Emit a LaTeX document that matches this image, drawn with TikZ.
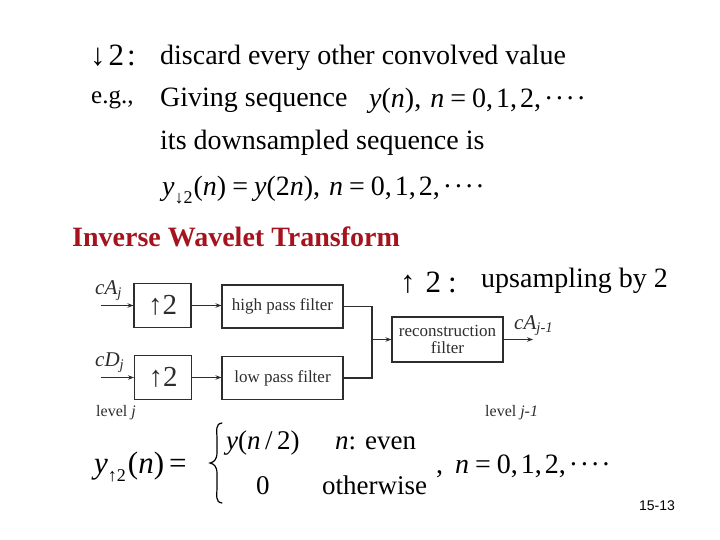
\documentclass[tikz,border=0pt]{standalone}
\usepackage{amsmath}
\usepackage{fontspec}
\setmainfont{Liberation Serif}
\newfontfamily\pagefont{Liberation Sans}
\usetikzlibrary{arrows.meta}
\definecolor{titlered}{RGB}{165,20,30}
\definecolor{diag}{RGB}{45,45,45}
\newcommand{\mi}[1]{\textit{#1}}
\newcommand{\ctd}{\hspace{3pt}·\hspace{1.5pt}·\hspace{1.5pt}·\hspace{1.5pt}·}
\newcommand{\sbx}[1]{\raisebox{-0.28em}{\fontsize{18}{18}\selectfont #1}}
\newcommand{\eqs}{\hspace{6pt}=\hspace{6pt}}
\newcommand{\seq}{0,\hspace{3pt}1,\hspace{3pt}2,\ctd}
\begin{document}
\begin{tikzpicture}[x=1pt,y=-1pt,
  txt/.style={inner sep=0pt, anchor=base west, font=\fontsize{28}{33}\selectfont},
  small/.style={inner sep=0pt, anchor=base west, text=diag, font=\fontsize{16}{19}\selectfont},
  lab/.style={inner sep=0pt, anchor=base west, text=diag, font=\fontsize{21}{24}\selectfont},
  box/.style={draw=diag, line width=1.1pt, inner sep=0pt, text=diag, font=\fontsize{17}{19}\selectfont, align=center},
  upbox/.style={box, minimum width=57pt, minimum height=44pt, font=\fontsize{29}{30}\selectfont},
  filt/.style={box, minimum width=121pt, minimum height=43pt},
  wire/.style={draw=diag, line width=1.1pt},
  conn/.style={wire, -{Stealth[length=6pt,width=4.5pt]}}]
\useasboundingbox (0,0) rectangle (720,540);

% top text
\node[txt, font=\fontsize{31}{34}\selectfont] (dn) at (90,66) {↓\hspace{3pt}2\hspace{3pt}:};
\node[txt] (l1) at (160,65) {discard every other convolved value};
\node[txt, font=\fontsize{25}{30}\selectfont] (eg) at (91,104) {e.g.,};
\node[txt] (l2) at (160,107) {Giving sequence};
\node[txt] (l2m) at (369,108) {\mi{y}(\mi{n}),\hspace{9pt}\mi{n}\eqs\seq};
\node[txt] (l3) at (160,150) {its downsampled sequence is};
\node[txt] (l4) at (162,196) {\mi{y}\sbx{↓2}\hspace{1pt}(\mi{n})\eqs\mi{y}(2\mi{n}),\hspace{9pt}\mi{n}\eqs\seq};

% title
\node[txt, font=\fontsize{28}{33}\selectfont\bfseries, text=titlered] (title) at (72,246) {Inverse Wavelet Transform};

\node[txt, font=\fontsize{31}{34}\selectfont] (up) at (400,292) {↑\hspace{10pt}2\hspace{7pt}:};
\node[txt] (ups) at (481,287) {upsampling by 2};

% diagram
\node[upbox] (u1) at (162.5,305.5) {↑2};
\node[filt] (hp) at (282.5,306.5) {high pass filter};
\node[upbox] (u2) at (163,377.5) {↑2};
\node[filt] (lp) at (282.5,378) {low pass filter};
\node[box, minimum width=111pt, minimum height=45pt] (rec) at (447.5,339.5) {reconstruction\\[-2pt]filter};

\coordinate (inA) at (101,305.5);
\coordinate (inD) at (101,377.5);
\coordinate (j1) at (372,306.5);
\coordinate (j2) at (372,378);
\coordinate (jm) at (372,339.5);
\coordinate (out) at (533,339.5);

\draw[conn] (inA) -- (u1);
\draw[conn] (u1) -- (u1 -| hp.west);
\draw[conn] (inD) -- (u2);
\draw[conn] (u2) -- (u2 -| lp.west);
\draw[wire] (hp.east) -- (j1) -- (j2) -- (lp.east);
\draw[conn] (jm) -- (rec.west);
\draw[conn] (rec.east) -- (out);

\node[lab] (cA) at (95,294) {\mi{cA}\textsubscript{\mi{j}}};
\node[lab] (cD) at (95,366) {\mi{cD}\textsubscript{\mi{j}}};
\node[lab] (cA1) at (514,329) {\mi{cA}\textsubscript{\mi{j-1}}};
\node[small] (lj) at (96,416) {level \mi{j}};
\node[small] (lj1) at (485,416) {level \mi{j-1}};

% bottom formula
\node[txt, font=\fontsize{31}{34}\selectfont] (fl) at (94,473) {\mi{y}\sbx{↑2}\hspace{2pt}(\mi{n})\hspace{5pt}=};
\draw[line width=1.2pt, line cap=round] (222,423) .. controls (215,424) and (217,430) .. (217,440)
  -- (217,452) .. controls (217,460) and (214,462) .. (210,463)
  .. controls (214,464) and (217,466) .. (217,474) -- (217,486)
  .. controls (217,496) and (215,502) .. (222,503);
\node[txt, font=\fontsize{27}{32}\selectfont] (r1a) at (226,449) {\mi{y}(\mi{n}\,/\,2)};
\node[txt, font=\fontsize{27}{32}\selectfont] (r1b) at (335,449) {\mi{n}: even};
\node[txt, font=\fontsize{27}{32}\selectfont] (r2a) at (256,494) {0};
\node[txt, font=\fontsize{27}{32}\selectfont] (r2b) at (322,494) {otherwise};
\node[txt] (fr) at (436,473) {,\hspace{12pt}\mi{n}\eqs\seq};

\node[inner sep=0pt, font=\pagefont\fontsize{14}{16}\selectfont] (pg) at (657,506) {15-13};
\end{tikzpicture}
\end{document}
